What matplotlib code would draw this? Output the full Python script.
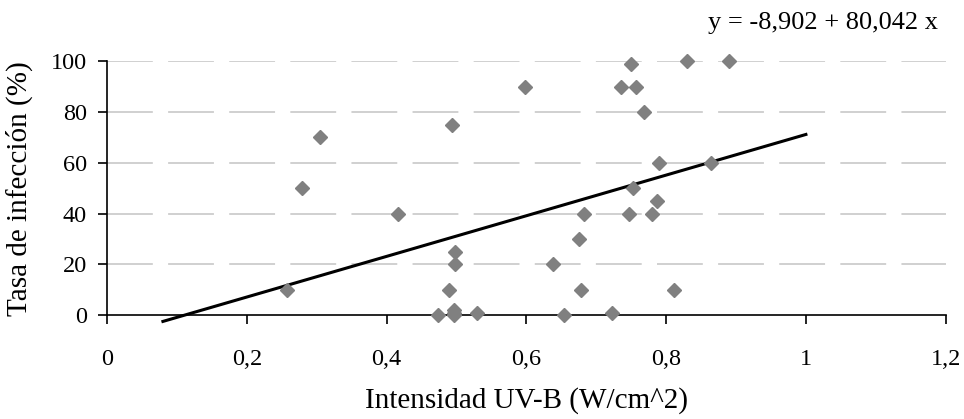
import matplotlib.pyplot as plt
import numpy as np

# UV-B intensity vs infection rate
uvb = [0.258, 0.279, 0.305, 0.416, 0.473, 0.489, 0.493, 0.497, 0.497, 0.497,
       0.498, 0.498, 0.529, 0.598, 0.638, 0.654, 0.676, 0.678, 0.682, 0.722,
       0.736, 0.747, 0.750, 0.752, 0.757, 0.769, 0.780, 0.787, 0.790, 0.811,
       0.830, 0.864, 0.890]
infeccion = [10, 50, 70, 40, 0, 10, 75, 2, 1, 0,
             25, 20, 1, 90, 20, 0, 30, 10, 40, 1,
             90, 40, 99, 50, 90, 80, 40, 45, 60, 10,
             100, 60, 100]

intercept = -8.902
slope = 80.042
fit_x = [0.08, 1.0]

xticks = [0, 0.2, 0.4, 0.6, 0.8, 1.0, 1.2]
xtick_labels = ["0", "0,2", "0,4", "0,6", "0,8", "1", "1,2"]
yticks = [0, 20, 40, 60, 80, 100]

plt.rcParams['font.family'] = ['Liberation Serif', 'DejaVu Serif']

fig = plt.figure(figsize=(9.64, 4.19), dpi=100)
ax = fig.add_axes([0.111, 0.248, 0.87, 0.606])

for y in yticks[1:]:
    ax.axhline(y, color="#c4c4c4", lw=1.1, dashes=(30, 10), zorder=0)

fx = np.array(fit_x)
ax.plot(fx, intercept + slope * fx, color="black", lw=2.2, clip_on=False, zorder=2)
ax.plot(uvb, infeccion, "D", color="#808080", ms=6.8, clip_on=False, zorder=3)

ax.set_xlim(0, 1.2)
ax.set_ylim(0, 100)
ax.set_xticks(xticks)
ax.set_xticklabels(xtick_labels, fontsize=17.5)
ax.set_yticks(yticks)
ax.set_yticklabels([str(v) for v in yticks], fontsize=17.5)
ax.tick_params(axis="x", direction="out", length=6.5, width=1.2, pad=18)
ax.tick_params(axis="y", direction="out", length=6.5, width=1.2, pad=8)

ax.spines["top"].set_visible(False)
ax.spines["right"].set_visible(False)
ax.spines["left"].set_linewidth(1.2)
ax.spines["bottom"].set_linewidth(1.2)

ax.set_ylabel("Tasa de infección (%)", fontsize=21)
ax.yaxis.set_label_coords(-0.088, 0.5)
ax.set_xlabel("Intensidad UV-B (W/cm^2)", fontsize=21)
ax.xaxis.set_label_coords(0.5, -0.284)

fig.text(0.973, 0.92, "y = -8,902 + 80,042 x", fontsize=19, ha="right", va="bottom")

fig.savefig("out.png", dpi=100)
